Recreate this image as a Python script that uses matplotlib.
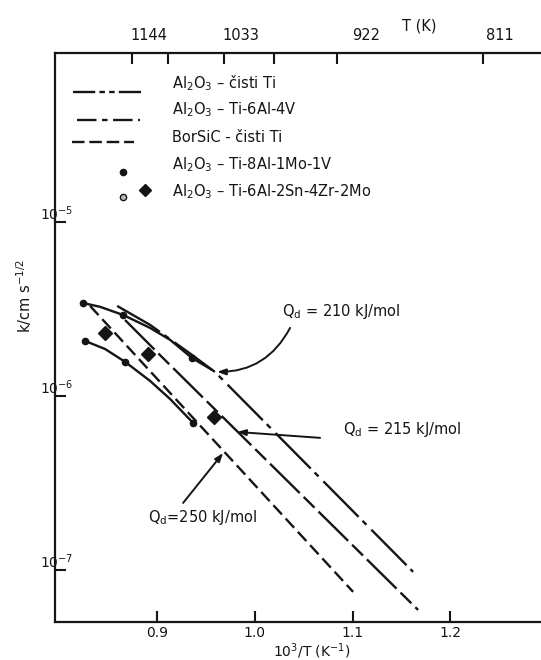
import matplotlib
matplotlib.use("Agg")
import matplotlib.pyplot as plt
from matplotlib.lines import Line2D
from matplotlib.transforms import ScaledTranslation
from matplotlib.ticker import FixedLocator, FixedFormatter, NullLocator

plt.rcParams['font.family'] = ['DejaVu Sans']
plt.rcParams['lines.scale_dashes'] = False
INK = '#151515'

# ---------------- data ----------------
# Ti-8Al-1Mo-1V : upper and lower solid curves with dots
upper_x = [0.8243, 0.8417, 0.8652, 0.8928, 0.9133, 0.9358, 0.9563]
upper_k = [3.42e-6, 3.25e-6, 2.92e-6, 2.46e-6, 2.10e-6, 1.65e-6, 1.41e-6]
upper_dot_x = [0.8243, 0.8652, 0.9358]
upper_dot_k = [3.42e-6, 2.92e-6, 1.65e-6]

lower_x = [0.8263, 0.8468, 0.8672, 0.8928, 0.9133, 0.9368]
lower_k = [2.07e-6, 1.86e-6, 1.57e-6, 1.22e-6, 9.6e-7, 7.0e-7]
lower_dot_x = [0.8263, 0.8672, 0.9368]
lower_dot_k = [2.07e-6, 1.57e-6, 7.0e-7]

# Ti-6Al-2Sn-4Zr-2Mo : diamonds
diam_x = [0.8468, 0.8908, 0.9583]
diam_k = [2.30e-6, 1.74e-6, 7.57e-7]

# Fitted lines
lineA_x = [0.8591, 0.8928, 0.9358, 0.9594, 1.1620]   # Qd = 210 kJ/mol
lineA_k = [3.29e-6, 2.56e-6, 1.72e-6, 1.37e-6, 9.75e-8]
lineB_x = [0.8672, 0.9051, 1.1671]                   # Qd = 215 kJ/mol
lineB_k = [2.73e-6, 1.67e-6, 5.89e-8]
lineC_x = [0.8314, 1.1006]                           # Qd = 250 kJ/mol
lineC_k = [3.29e-6, 7.48e-8]

x_ticks = [0.9, 1.0, 1.1, 1.2]
x_ticklabels = ['0.9', '1.0', '1.1', '1.2']
y_ticks = [1e-5, 1e-6, 1e-7]
y_ticklabels = ['10$^\\mathregular{-5}$', '10$^\\mathregular{-6}$', '10$^\\mathregular{-7}$']
T_labels = [1144, 1033, 922, 811]
T_minor = [1098, 981]

legend_labels = ['Al$_\\mathregular{2}$O$_\\mathregular{3}$ – čisti Ti',
                 'Al$_\\mathregular{2}$O$_\\mathregular{3}$ – Ti-6Al-4V',
                 'BorSiC - čisti Ti',
                 'Al$_\\mathregular{2}$O$_\\mathregular{3}$ – Ti-8Al-1Mo-1V',
                 'Al$_\\mathregular{2}$O$_\\mathregular{3}$ – Ti-6Al-2Sn-4Zr-2Mo']

# ---------------- figure ----------------
W, H = 541, 660
fig = plt.figure(figsize=(W / 100, H / 100), dpi=100)
L, R, T, B = 55, 541, 53, 622
ax = fig.add_axes([L / W, 1 - B / H, (R - L) / W, (B - T) / H])
ax.set_yscale('log')
ax.set_xlim(0.7955, 1.2929)
ax.set_ylim(5.02e-8, 9.35e-5)

for s in ['left', 'top', 'bottom']:
    ax.spines[s].set_linewidth(1.6)
    ax.spines[s].set_color(INK)
ax.spines['right'].set_visible(False)

# bottom ticks
ax.xaxis.set_major_locator(FixedLocator(x_ticks))
ax.xaxis.set_major_formatter(FixedFormatter(x_ticklabels))
ax.tick_params(axis='x', direction='in', length=8, width=1.5, colors=INK,
               labelsize=10, pad=3, bottom=True, top=False)
# left ticks
ax.yaxis.set_major_locator(FixedLocator(y_ticks))
ax.yaxis.set_major_formatter(FixedFormatter(y_ticklabels))
ax.yaxis.set_minor_locator(NullLocator())
ax.tick_params(axis='y', direction='in', length=8, width=1.5, colors=INK,
               labelsize=10, pad=-13, left=True, right=False)
for lab in ax.get_yticklabels():
    lab.set_transform(lab.get_transform() + ScaledTranslation(0, 7 / 72, fig.dpi_scale_trans))

# top axis (temperature)
ax2 = ax.twiny()
ax2.set_xlim(ax.get_xlim())
for s in ax2.spines.values():
    s.set_visible(False)
ax2.xaxis.set_major_locator(FixedLocator([1000 / t for t in T_labels]))
ax2.xaxis.set_major_formatter(FixedFormatter([str(t) for t in T_labels]))
ax2.xaxis.set_minor_locator(FixedLocator([1000 / t for t in T_minor]))
ax2.tick_params(axis='x', which='both', direction='in', length=8, width=1.5,
                colors=INK, labelsize=10.5, pad=7)
fig.canvas.draw()
offsets = [17, 17, 29, 17]
for lab, off in zip(ax2.get_xticklabels(), offsets):
    lab.set_transform(lab.get_transform() + ScaledTranslation(off / 100, 0, fig.dpi_scale_trans))

lw = 1.7
# curves with dots
ax.plot(upper_x, upper_k, color=INK, lw=lw, solid_capstyle='round')
ax.plot(lower_x, lower_k, color=INK, lw=lw, solid_capstyle='round')
ax.plot(upper_dot_x, upper_dot_k, 'o', color=INK, ms=4.5)
ax.plot(lower_dot_x, lower_dot_k, 'o', color=INK, ms=4.5)
ax.plot(diam_x, diam_k, 'D', color=INK, ms=7)

# lines
ax.plot(lineA_x, lineA_k, color=INK, lw=lw, dashes=(36, 4, 4, 5))
ax.plot(lineB_x, lineB_k, color=INK, lw=lw, dashes=(30, 4, 11, 4))
ax.plot(lineC_x, lineC_k, color=INK, lw=lw, dashes=(9, 4))

# annotations
fs = 10.5
arrow_kw = dict(arrowstyle='-|>,head_length=0.5,head_width=0.18', color=INK, lw=1.4,
                shrinkA=0, shrinkB=0)
ax.text(1.0279, 10 ** -5.517, 'Q$_\\mathregular{d}$ = 210 kJ/mol', fontsize=fs,
        color=INK, ha='left', va='center')
ax.annotate('', xy=(0.9614, 10 ** -5.862), xytext=(1.0361, 10 ** -5.609),
            arrowprops=dict(connectionstyle='arc3,rad=-0.3', **arrow_kw))
ax.text(1.0904, 10 ** -6.195, 'Q$_\\mathregular{d}$ = 215 kJ/mol', fontsize=fs,
        color=INK, ha='left', va='center')
ax.annotate('', xy=(0.9819, 10 ** -6.207), xytext=(1.0668, 10 ** -6.241),
            arrowprops=dict(connectionstyle='arc3,rad=0', **arrow_kw))
ax.text(0.8908, 10 ** -6.701, 'Q$_\\mathregular{d}$=250 kJ/mol', fontsize=fs,
        color=INK, ha='left', va='center')
ax.annotate('', xy=(0.9676, 10 ** -6.328), xytext=(0.9266, 10 ** -6.615),
            arrowprops=dict(connectionstyle='arc3,rad=0', **arrow_kw))

# axis labels
def fx(px):
    return (px - L) / (R - L)

def fy(py):
    return (B - py) / (B - T)

ax.text(fx(312), fy(651), '10$^\\mathregular{3}$/T (K$^\\mathregular{-1}$)', transform=ax.transAxes,
        fontsize=10, ha='center', va='center', color=INK, clip_on=False)
ax.text(fx(24), fy(296), 'k/cm s$^\\mathregular{-1/2}$', transform=ax.transAxes, rotation=90,
        fontsize=10.5, ha='center', va='center', color=INK, clip_on=False)
ax.text(fx(419), fy(26), 'T (K)', transform=ax.transAxes, fontsize=10.5,
        ha='center', va='center', color=INK, clip_on=False)

# legend (manual)
tx = fx(172)
text_y = [83, 110, 137, 165, 192]
for lab, yy in zip(legend_labels, text_y):
    ax.text(tx, fy(yy), lab, transform=ax.transAxes, fontsize=10.5, ha='left',
            va='center', color=INK)
ax.add_line(Line2D([fx(73), fx(142)], [fy(92), fy(92)], transform=ax.transAxes,
                   color=INK, lw=lw, dashes=(16, 3, 4, 3, 4, 3)))
ax.add_line(Line2D([fx(77), fx(140)], [fy(120), fy(120)], transform=ax.transAxes,
                   color=INK, lw=lw, dashes=(14, 4, 4, 4)))
ax.add_line(Line2D([fx(72), fx(134)], [fy(142), fy(142)], transform=ax.transAxes,
                   color=INK, lw=lw, dashes=(9, 3.5)))
ax.add_line(Line2D([fx(123)], [fy(172)], transform=ax.transAxes, marker='o',
                   color=INK, ms=4.5, ls='none'))
ax.add_line(Line2D([fx(123)], [fy(197)], transform=ax.transAxes, marker='o',
                   mfc='#bbbbbb', mec=INK, ms=4.5, ls='none'))
ax.add_line(Line2D([fx(145)], [fy(190)], transform=ax.transAxes, marker='D',
                   color=INK, ms=6, ls='none'))

fig.savefig('out.png', dpi=100)
